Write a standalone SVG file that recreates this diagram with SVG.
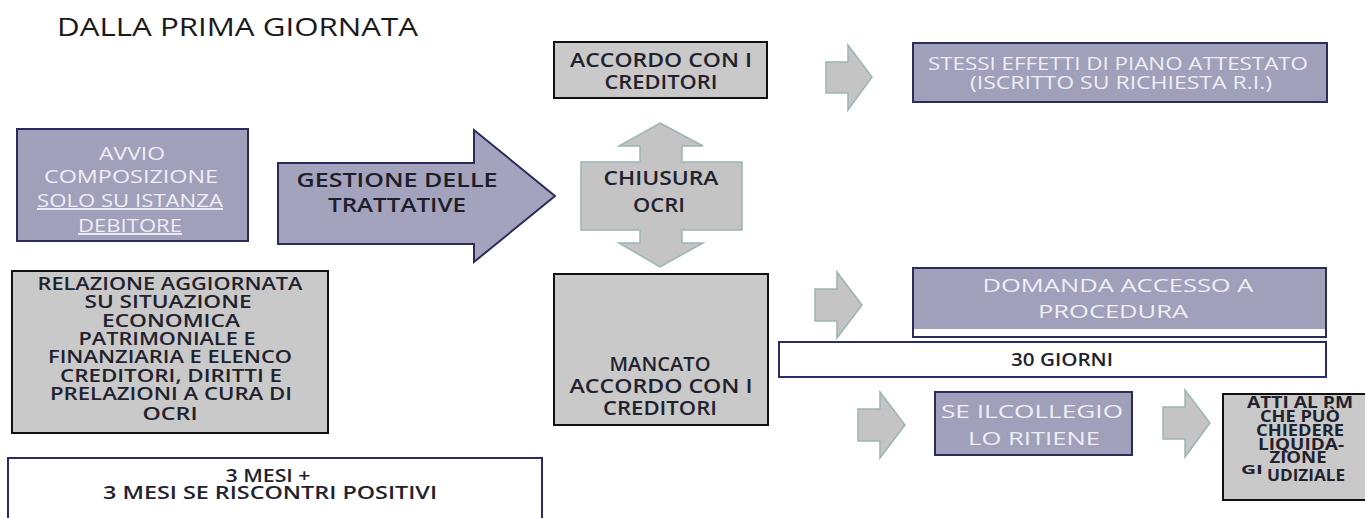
<svg xmlns="http://www.w3.org/2000/svg" width="1365" height="518" viewBox="0 0 1365 518">
  <style>
    text { font-family: "Open Sans", "Liberation Sans", sans-serif; text-anchor: middle; }
    .title { font-size: 25px; fill: #1a1a1a; text-anchor: start; }
    .purple { fill: #a0a0ba; stroke: #2c2c5c; stroke-width: 2; }
    .grey { fill: #c9c9c9; stroke: #111111; stroke-width: 2; }
    .white { fill: #ffffff; stroke: #2c2c6c; stroke-width: 2; }
    .flow { fill: #c4c4c4; stroke: #9bb5b5; stroke-width: 1.5; }
    .lt { font-size: 19px; fill: #eeeef4; }
    .dk { font-size: 19px; fill: #22222e; font-weight: 600; }
    .dkb { font-size: 19px; fill: #1e1e2a; font-weight: 600; }
    .sm { font-size: 18px; fill: #22222e; font-weight: 600; }
    .xs { font-size: 16px; fill: #22222e; font-weight: 700; }
  </style>

  <text class="title" x="57" y="36" textLength="361" lengthAdjust="spacingAndGlyphs">DALLA PRIMA GIORNATA</text>

  <!-- flow arrows between steps -->
  <g id="connectors">
    <polygon id="arrow-gestione" points="278,163 474,163 474,130 555,196 474,262 474,244 278,244" fill="#a3a3bd" stroke="#2c2c5c" stroke-width="2"/>
    <polygon id="arrow-accordo" class="flow" points="826,62 848,62 848,45 872,77 848,110 848,93 826,93"/>
    <polygon id="arrow-domanda" class="flow" points="815,289 837,289 837,272 862,305 837,338 837,321 815,321"/>
    <polygon id="arrow-collegio" class="flow" points="858,409 880,409 880,392 905,425 880,458 880,441 858,441"/>
    <polygon id="arrow-atti" class="flow" points="1163,407 1185,407 1185,390 1210,423 1185,457 1185,439 1163,439"/>
  </g>
  <text class="dkb" x="397" y="187" textLength="201" lengthAdjust="spacingAndGlyphs">GESTIONE DELLE</text>
  <text class="dkb" x="397" y="212" textLength="138" lengthAdjust="spacingAndGlyphs">TRATTATIVE</text>

  <g id="node-avvio">
    <rect class="purple" x="17" y="129" width="231" height="112"/>
    <text class="lt" x="132" y="160" textLength="66" lengthAdjust="spacingAndGlyphs">AVVIO</text>
    <text class="lt" x="131" y="183" textLength="174" lengthAdjust="spacingAndGlyphs">COMPOSIZIONE</text>
    <text class="lt" x="130" y="207" textLength="186" lengthAdjust="spacingAndGlyphs" text-decoration="underline">SOLO SU ISTANZA</text>
    <text class="lt" x="130" y="232" textLength="104" lengthAdjust="spacingAndGlyphs" text-decoration="underline">DEBITORE</text>
  </g>

  <g id="node-relazione">
    <rect class="grey" x="12" y="271" width="316" height="162"/>
    <text class="sm" x="170" y="290" textLength="265" lengthAdjust="spacingAndGlyphs">RELAZIONE AGGIORNATA</text>
    <text class="sm" x="168" y="308" textLength="167" lengthAdjust="spacingAndGlyphs">SU SITUAZIONE</text>
    <text class="sm" x="171" y="327" textLength="138" lengthAdjust="spacingAndGlyphs">ECONOMICA</text>
    <text class="sm" x="167" y="345" textLength="177" lengthAdjust="spacingAndGlyphs">PATRIMONIALE E</text>
    <text class="sm" x="170" y="363" textLength="244" lengthAdjust="spacingAndGlyphs">FINANZIARIA E ELENCO</text>
    <text class="sm" x="171" y="382" textLength="222" lengthAdjust="spacingAndGlyphs">CREDITORI, DIRITTI E</text>
    <text class="sm" x="171" y="400" textLength="242" lengthAdjust="spacingAndGlyphs">PRELAZIONI A CURA DI</text>
    <text class="sm" x="170" y="420" textLength="55" lengthAdjust="spacingAndGlyphs">OCRI</text>
  </g>

  <g id="node-durata">
    <rect class="white" x="8" y="458" width="534" height="70"/>
    <text class="sm" x="268" y="482" textLength="85" lengthAdjust="spacingAndGlyphs">3 MESI +</text>
    <text class="sm" x="270" y="499" textLength="334" lengthAdjust="spacingAndGlyphs">3 MESI SE RISCONTRI  POSITIVI</text>
  </g>

  <g id="node-accordo">
    <rect class="grey" x="554" y="42" width="213" height="56"/>
    <text class="dk" x="661" y="67" textLength="182" lengthAdjust="spacingAndGlyphs">ACCORDO CON I</text>
    <text class="dk" x="661" y="89" textLength="113" lengthAdjust="spacingAndGlyphs">CREDITORI</text>
  </g>

  <g id="node-chiusura">
    <polygon class="flow" points="660,123 703,146 682,146 682,162 742,162 742,230 682,230 682,243 703,243 660,267 619,243 640,243 640,230 581,230 581,162 640,162 640,146 619,146"/>
    <text class="dk" x="661" y="185" textLength="115" lengthAdjust="spacingAndGlyphs">CHIUSURA</text>
    <text class="dk" x="659" y="212" textLength="52" lengthAdjust="spacingAndGlyphs">OCRI</text>
  </g>

  <g id="node-mancato">
    <rect class="grey" x="554" y="274" width="214" height="151"/>
    <text class="dk" x="660" y="371" textLength="101" lengthAdjust="spacingAndGlyphs">MANCATO</text>
    <text class="dk" x="661" y="393" textLength="183" lengthAdjust="spacingAndGlyphs">ACCORDO CON I</text>
    <text class="dk" x="660" y="415" textLength="114" lengthAdjust="spacingAndGlyphs">CREDITORI</text>
  </g>

  <g id="node-effetti">
    <rect class="purple" x="913" y="43" width="414" height="59"/>
    <text class="lt" x="1118" y="70" textLength="380" lengthAdjust="spacingAndGlyphs">STESSI EFFETTI  DI PIANO ATTESTATO</text>
    <text class="lt" x="1121" y="89" textLength="302" lengthAdjust="spacingAndGlyphs">(ISCRITTO SU RICHIESTA R.I.)</text>
  </g>

  <g id="node-domanda">
    <rect x="913" y="268" width="413" height="69" fill="#ffffff" stroke="#2c2c5c" stroke-width="2"/>
    <rect x="914" y="269" width="411" height="60" fill="#a0a0ba"/>
    <text class="lt" x="1118" y="292" textLength="271" lengthAdjust="spacingAndGlyphs">DOMANDA ACCESSO A</text>
    <text class="lt" x="1113" y="318" textLength="150" lengthAdjust="spacingAndGlyphs">PROCEDURA</text>
  </g>

  <g id="node-giorni">
    <rect class="white" x="779" y="342" width="547" height="35"/>
    <text class="sm" x="1062" y="366" textLength="102" lengthAdjust="spacingAndGlyphs">30 GIORNI</text>
  </g>

  <g id="node-collegio">
    <rect class="purple" x="935" y="392" width="197" height="63"/>
    <text class="lt" x="1032" y="418" textLength="182" lengthAdjust="spacingAndGlyphs">SE ILCOLLEGIO</text>
    <text class="lt" x="1034" y="445" textLength="132" lengthAdjust="spacingAndGlyphs">LO RITIENE</text>
  </g>

  <g id="node-atti">
    <rect class="grey" x="1223" y="394" width="150" height="106"/>
    <text class="xs" x="1300" y="408" textLength="106" lengthAdjust="spacingAndGlyphs">ATTI AL PM</text>
    <text class="xs" x="1300" y="422" textLength="80" lengthAdjust="spacingAndGlyphs">CHE PUÒ</text>
    <text class="xs" x="1300" y="436" textLength="88" lengthAdjust="spacingAndGlyphs">CHIEDERE</text>
    <text class="xs" x="1301" y="450" textLength="86" lengthAdjust="spacingAndGlyphs">LIQUIDA-</text>
    <text class="xs" x="1298" y="463" textLength="57" lengthAdjust="spacingAndGlyphs">ZIONE</text>
    <text x="1252" y="474" style="font-size:12px;fill:#22222e;font-weight:700" textLength="22" lengthAdjust="spacingAndGlyphs">GI</text>
    <text class="xs" x="1306" y="481" textLength="78" lengthAdjust="spacingAndGlyphs">UDIZIALE</text>
  </g>
</svg>
